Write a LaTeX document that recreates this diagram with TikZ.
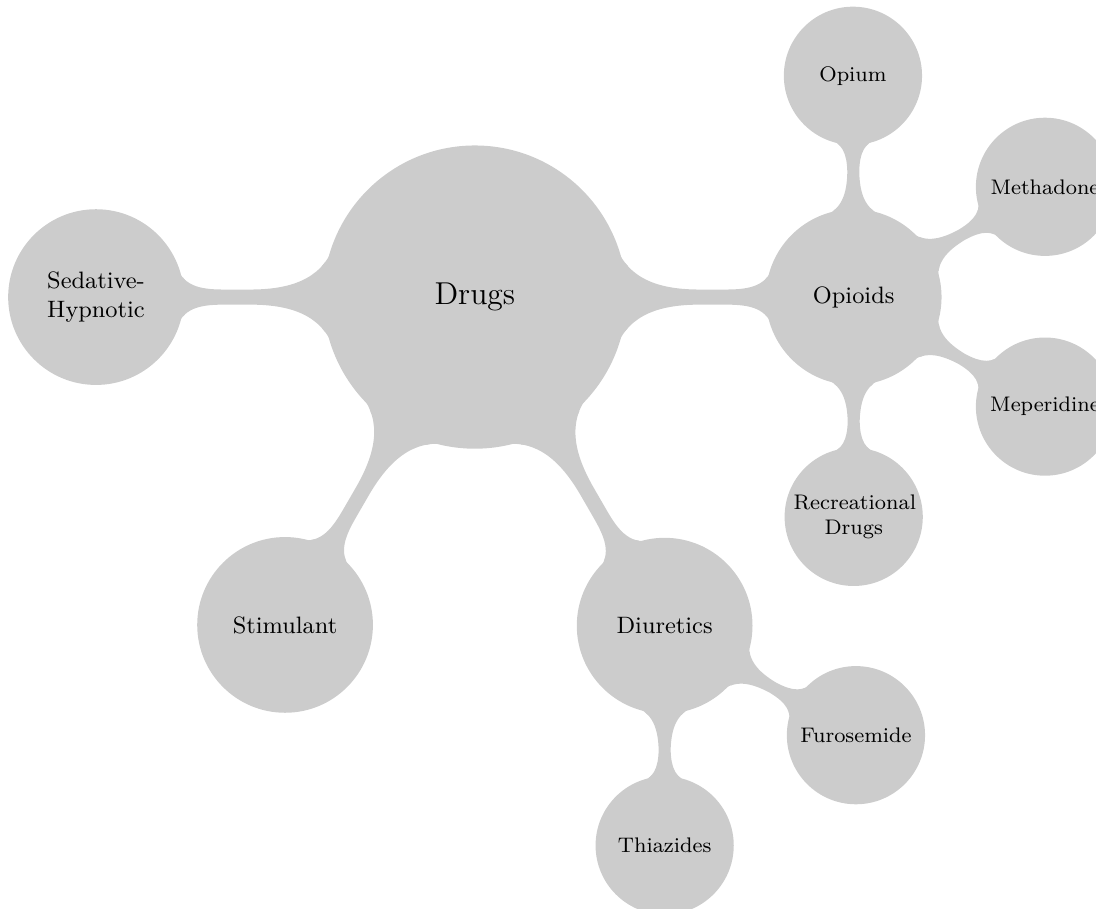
\documentclass[tikz,border=0pt]{standalone}
\usetikzlibrary{mindmap}

\begin{document}
\begin{tikzpicture}[mindmap, concept color=gray!40]
    \tikzstyle{rootbox}=[concept, minimum size=4cm, text width=3.5cm, align=center, font=\large]
    \tikzstyle{classbox}=[concept, minimum size=2.3cm, text width=2.1cm, align=center, font=\small]
    \tikzstyle{itembox}=[concept, minimum size=1.8cm, text width=1.6cm, align=center, font=\footnotesize]
    \tikzstyle{bar}=[circle connection bar switch color=from (gray!40) to (gray!40)]

    \useasboundingbox (-6.33,-8.15) rectangle (8.28,3.96);

    \node[rootbox] (drugs) at (0,0) {Drugs};

    \node[classbox] (opioids) at (5.05,0) {Opioids};
    \node[classbox] (diuretics) at (2.53,-4.38) {Diuretics};
    \node[classbox] (stimulant) at (-2.53,-4.37) {Stimulant};
    \node[classbox] (sedative) at (-5.05,0) {Sedative-\\Hypnotic};
    \path (drugs) to[bar] (opioids);
    \path (drugs) to[bar] (diuretics);
    \path (drugs) to[bar] (stimulant);
    \path (drugs) to[bar] (sedative);

    \node[itembox] (opium) at (5.04,2.95) {Opium};
    \node[itembox] (methadone) at (7.6,1.47) {Methadone};
    \node[itembox] (meperidine) at (7.6,-1.46) {Meperidine};
    \node[itembox] (recreational) at (5.05,-2.93) {Recreational\\Drugs};
    \path (opioids) to[bar] (opium);
    \path (opioids) to[bar] (methadone);
    \path (opioids) to[bar] (meperidine);
    \path (opioids) to[bar] (recreational);

    \node[itembox] (furosemide) at (5.08,-5.84) {Furosemide};
    \node[itembox] (thiazides) at (2.53,-7.31) {Thiazides};
    \path (diuretics) to[bar] (furosemide);
    \path (diuretics) to[bar] (thiazides);
\end{tikzpicture}
\end{document}
